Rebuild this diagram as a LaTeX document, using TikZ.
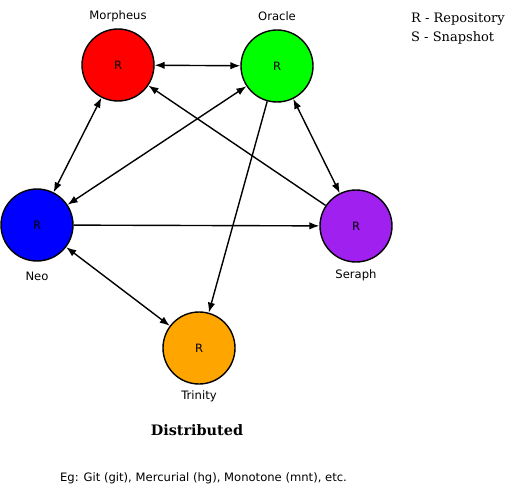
\documentclass[tikz,border=0pt]{standalone}
\usepackage{fontspec}
\setmainfont{DejaVu Sans}
\newfontfamily\serif{DejaVu Serif}
\usetikzlibrary{arrows.meta}
\begin{document}
\begin{tikzpicture}[x=1pt,y=-1pt,
  repo/.style={circle,draw=black,line width=1.4pt,minimum size=72pt,inner sep=0pt,font=\fontsize{11.5}{13}\selectfont},
  lbl/.style={font=\fontsize{11.6}{13}\selectfont,inner sep=0pt},
  conn/.style={line width=1.4pt,-{Latex[length=10pt,width=7.5pt]}},
  bconn/.style={line width=1.4pt,{Latex[length=10pt,width=7.5pt]}-{Latex[length=10pt,width=7.5pt]}}]
\useasboundingbox (0,0) rectangle (512,495);
\definecolor{cred}{HTML}{FF0000}
\definecolor{cgreen}{HTML}{00FF00}
\definecolor{cblue}{HTML}{0000FF}
\definecolor{cpurple}{HTML}{A020F0}
\definecolor{corange}{HTML}{FFA500}
\node[repo,fill=cred] (morpheus) at (118,65) {R};
\node[repo,fill=cgreen] (oracle) at (277,66) {R};
\node[repo,fill=cblue] (neo) at (37,225) {R};
\node[repo,fill=cpurple] (seraph) at (356,226) {R};
\node[repo,fill=corange] (trinity) at (199,348) {R};
\node[lbl] (lm) at (118,16) {Morpheus};
\node[lbl] (lo) at (277,16) {Oracle};
\node[lbl] (ln) at (37,276) {Neo};
\node[lbl] (ls) at (356,275) {Seraph};
\node[lbl] (lt) at (199,396) {Trinity};
\draw[bconn] (morpheus) -- (oracle);
\draw[bconn] (morpheus) -- (neo);
\draw[bconn] (oracle) -- (neo);
\draw[conn] (seraph) -- (morpheus);
\draw[conn] (oracle) -- (trinity);
\draw[bconn] (oracle) -- (seraph);
\draw[conn] (neo) -- (seraph);
\draw[bconn] (neo) -- (trinity);
\node[anchor=north west,align=left,inner sep=0pt,font=\serif\fontsize{13}{18.5}\selectfont] (legend) at (411,13) {R - Repository\\S - Snapshot};
\node[font=\serif\bfseries\fontsize{14.4}{16}\selectfont,inner sep=0pt] (title) at (197,430) {Distributed};
\node[lbl] (eg) at (203.5,478) {Eg: Git (git), Mercurial (hg), Monotone (mnt), etc.};
\end{tikzpicture}
\end{document}
